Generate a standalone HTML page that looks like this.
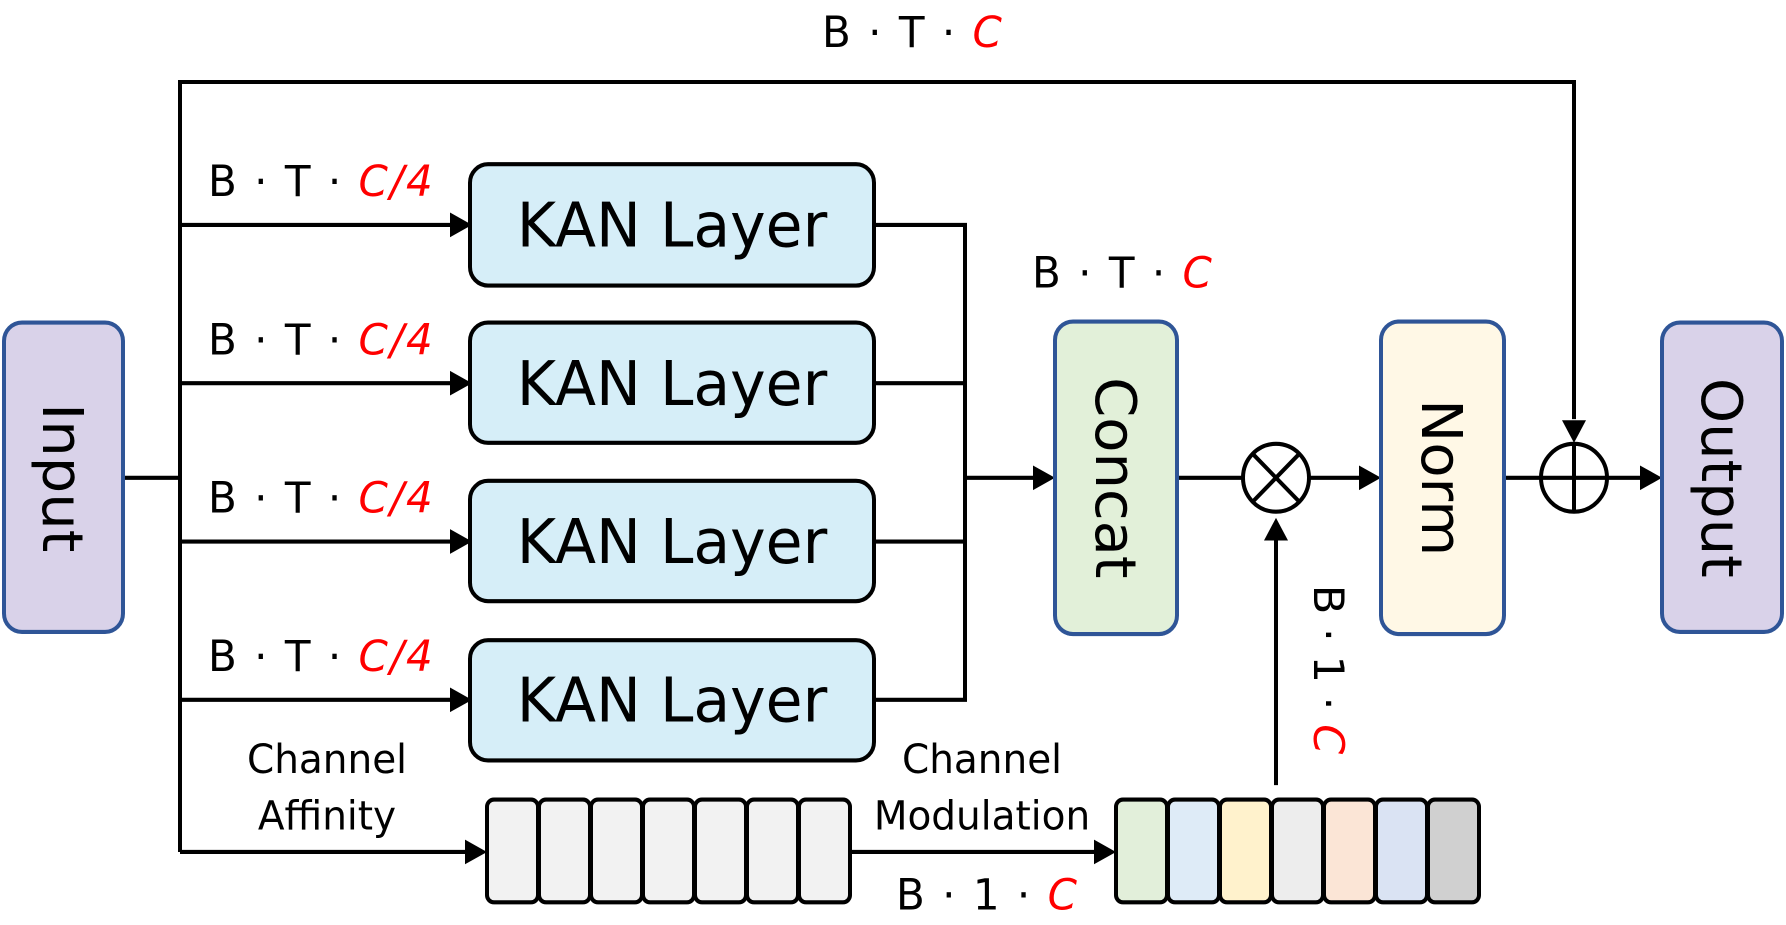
<!DOCTYPE html>
<html><head><meta charset="utf-8"><style>
html,body{margin:0;padding:0;background:#fff;}
svg{display:block;}
text{font-family:"Comic Sans MS","DejaVu Sans","Liberation Sans",sans-serif;}
</style></head><body>
<svg width="1786" height="925" viewBox="0 0 1786 925" xmlns="http://www.w3.org/2000/svg">
<g transform="translate(0,82) scale(1,1.028) translate(0,-82)">
<g stroke="#000" stroke-width="4" fill="none">
  <line x1="123" y1="467" x2="180" y2="467"/>
  <polyline points="180,831 180,82 1574,82 1574,410"/>
  <line x1="180" y1="221" x2="450" y2="221"/>
  <line x1="180" y1="375" x2="450" y2="375"/>
  <line x1="180" y1="529" x2="450" y2="529"/>
  <line x1="180" y1="683" x2="450" y2="683"/>
  <line x1="180" y1="831" x2="465" y2="831"/>
  <polyline points="874,221 965,221 965,683 874,683"/>
  <line x1="874" y1="375" x2="965" y2="375"/>
  <line x1="874" y1="529" x2="965" y2="529"/>
  <line x1="965" y1="467" x2="1035" y2="467"/>
  <line x1="1177" y1="467" x2="1243" y2="467"/>
  <line x1="1309" y1="467" x2="1361" y2="467"/>
  <line x1="1504" y1="467" x2="1541" y2="467"/>
  <line x1="1607" y1="467" x2="1642" y2="467"/>
  <line x1="851" y1="831" x2="1096" y2="831"/>
  <line x1="1276" y1="766" x2="1276" y2="525"/>
</g>
<g fill="#000">
  <polygon points="450,209 472,221 450,233"/>
  <polygon points="450,363 472,375 450,387"/>
  <polygon points="450,517 472,529 450,541"/>
  <polygon points="450,671 472,683 450,695"/>
  <polygon points="465,819 487,831 465,843"/>
  <polygon points="1033,455 1055,467 1033,479"/>
  <polygon points="1359,455 1381,467 1359,479"/>
  <polygon points="1640,455 1662,467 1640,479"/>
  <polygon points="1094,819 1116,831 1094,843"/>
  <polygon points="1562,411 1574,433 1586,411"/>
  <polygon points="1264,528 1276,506 1288,528"/>
</g>
<g stroke="#000" stroke-width="4" fill="#fff">
  <circle cx="1276" cy="467" r="33"/>
  <circle cx="1574" cy="467" r="33"/>
</g>
<g stroke="#000" stroke-width="4">
  <line x1="1253" y1="444" x2="1299" y2="490"/>
  <line x1="1299" y1="444" x2="1253" y2="490"/>
  <line x1="1541" y1="467" x2="1607" y2="467"/>
  <line x1="1574" y1="434" x2="1574" y2="500"/>
</g>
<g stroke-width="4">
  <rect x="4" y="316" width="119" height="301" rx="18" fill="#d9d2e9" stroke="#2f5597"/>
  <rect x="1662" y="316" width="120" height="301" rx="18" fill="#d9d2e9" stroke="#2f5597"/>
  <rect x="1055" y="315" width="122" height="304" rx="18" fill="#e2f0d9" stroke="#2f5597"/>
  <rect x="1381" y="315" width="123" height="304" rx="18" fill="#fff8e6" stroke="#2f5597"/>
  <rect x="470" y="162" width="404" height="118" rx="18" fill="#d6eef8" stroke="#000"/>
  <rect x="470" y="316" width="404" height="117" rx="18" fill="#d6eef8" stroke="#000"/>
  <rect x="470" y="470" width="404" height="117" rx="18" fill="#d6eef8" stroke="#000"/>
  <rect x="470" y="625" width="404" height="117" rx="18" fill="#d6eef8" stroke="#000"/>
</g>
<g stroke="#000" stroke-width="4">
  <rect x="487" y="780" width="51" height="100" rx="7" fill="#f2f2f2"/>
  <rect x="539" y="780" width="51" height="100" rx="7" fill="#f2f2f2"/>
  <rect x="591" y="780" width="51" height="100" rx="7" fill="#f2f2f2"/>
  <rect x="643" y="780" width="51" height="100" rx="7" fill="#f2f2f2"/>
  <rect x="695" y="780" width="51" height="100" rx="7" fill="#f2f2f2"/>
  <rect x="747" y="780" width="51" height="100" rx="7" fill="#f2f2f2"/>
  <rect x="799" y="780" width="51" height="100" rx="7" fill="#f2f2f2"/>
  <rect x="1116" y="780" width="51" height="100" rx="7" fill="#e2efda"/>
  <rect x="1168" y="780" width="51" height="100" rx="7" fill="#deebf7"/>
  <rect x="1220" y="780" width="51" height="100" rx="7" fill="#fff2cc"/>
  <rect x="1272" y="780" width="51" height="100" rx="7" fill="#ededed"/>
  <rect x="1324" y="780" width="51" height="100" rx="7" fill="#fbe5d6"/>
  <rect x="1376" y="780" width="51" height="100" rx="7" fill="#dae3f3"/>
  <rect x="1428" y="780" width="51" height="100" rx="7" fill="#d0d0d0"/>
</g>
<g font-size="60" text-anchor="middle" fill="#000">
  <text x="672" y="242">KAN Layer</text>
  <text x="672" y="396">KAN Layer</text>
  <text x="672" y="550">KAN Layer</text>
  <text x="672" y="704">KAN Layer</text>
</g>
<g font-size="56" text-anchor="middle" fill="#000">
  <text transform="translate(63,467) rotate(90)" y="20">Input</text>
  <text transform="translate(1722,467) rotate(90)" y="20">Output</text>
  <text transform="translate(1116,467) rotate(90)" y="20">Concat</text>
  <text transform="translate(1442,467) rotate(90)" y="20">Norm</text>
</g>
<g font-size="42" fill="#000" letter-spacing="2">
  <text x="208" y="193">B · T · <tspan fill="#f00" font-style="italic">C/4</tspan></text>
  <text x="208" y="347">B · T · <tspan fill="#f00" font-style="italic">C/4</tspan></text>
  <text x="208" y="501">B · T · <tspan fill="#f00" font-style="italic">C/4</tspan></text>
  <text x="208" y="655">B · T · <tspan fill="#f00" font-style="italic">C/4</tspan></text>
  <text x="822" y="48">B · T · <tspan fill="#f00" font-style="italic">C</tspan></text>
  <text x="1032" y="282">B · T · <tspan fill="#f00" font-style="italic">C</tspan></text>
  <text x="896" y="887">B · 1 · <tspan fill="#f00" font-style="italic">C</tspan></text>
  <text transform="translate(1314,571) rotate(90)" letter-spacing="0">B · 1 · <tspan fill="#f00" font-style="italic">C</tspan></text>
</g>
<g font-size="39" text-anchor="middle" fill="#000">
  <text x="327" y="754">Channel</text>
  <text x="327" y="809">Affinity</text>
  <text x="982" y="754">Channel</text>
  <text x="982" y="809">Modulation</text>
</g>
</g>
</svg>
</body></html>
